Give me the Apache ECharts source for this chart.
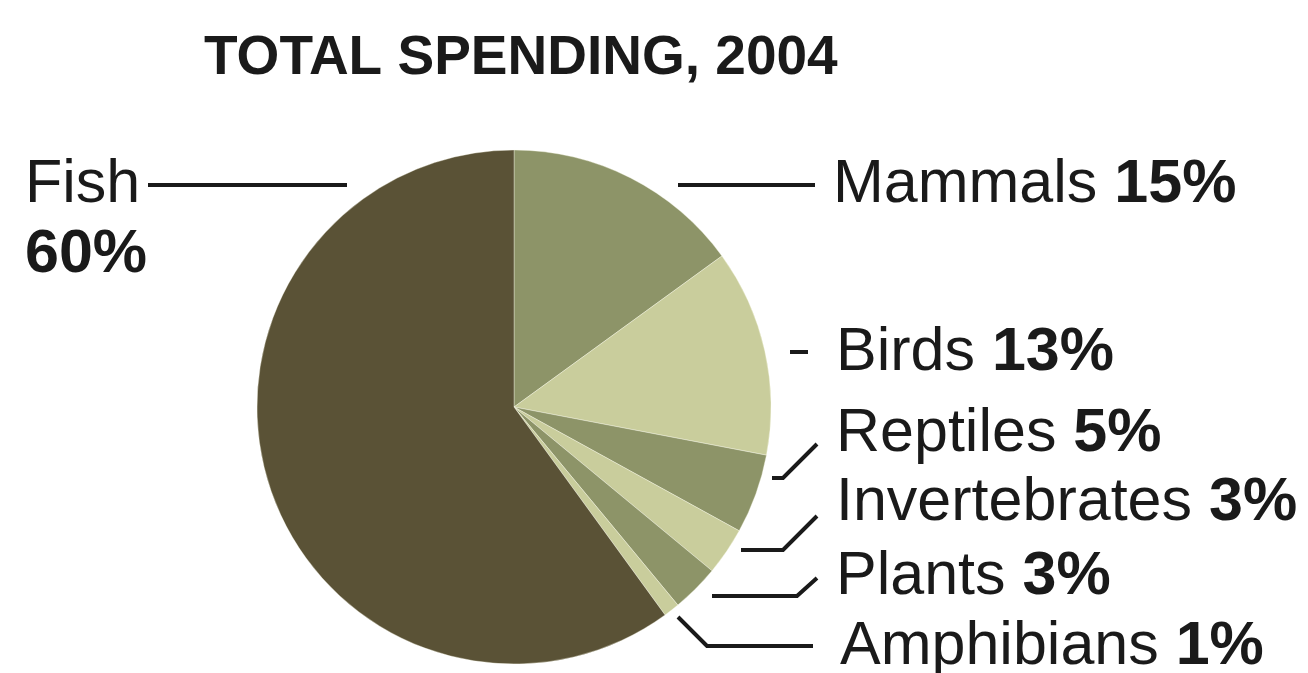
<!DOCTYPE html>
<html><head><meta charset="utf-8">
<script src="https://cdn.jsdelivr.net/npm/echarts@6/dist/echarts.min.js"></script>
<style>html,body{margin:0;padding:0;background:#fff}#c{width:1308px;height:673px}</style>
</head><body><div id="c"></div>
<script>
const titleText = 'TOTAL SPENDING, 2004';
const categories = ['Mammals', 'Birds', 'Reptiles', 'Invertebrates', 'Plants', 'Amphibians', 'Fish'];
const values = [15, 13, 5, 3, 3, 1, 60];
const sliceColors = ['#8d9468', '#c9cd9c', '#8d9468', '#c9cd9c', '#8d9468', '#c9cd9c', '#5a5236'];

// label anchor points and leader-line routes (layout only)
const labelPlacement = {
  Mammals:       { x: 833, y: 185, line: [[678, 185], [815, 185]] },
  Birds:         { x: 836, y: 353, line: [[790, 352], [808, 352]] },
  Reptiles:      { x: 836, y: 434, line: [[772, 478], [783, 478], [817, 444]] },
  Invertebrates: { x: 836, y: 503, line: [[741, 550], [783, 550], [817, 516]] },
  Plants:        { x: 836, y: 577, line: [[712, 596], [797, 596], [817, 578]] },
  Amphibians:    { x: 840, y: 647, line: [[678, 617], [707, 646], [813, 646]] },
  Fish:          { x: 25,  y: 150, line: [[148, 185], [347, 185]], top: true }
};

const FONT = '"Liberation Sans", Arial, Helvetica, sans-serif';
const chart = echarts.init(document.getElementById('c'), null, { renderer: 'canvas' });

chart.setOption({
  backgroundColor: '#ffffff',
  animation: false,
  title: {
    text: titleText,
    left: 199,
    top: 26,
    textStyle: { fontFamily: FONT, fontWeight: 'bold', fontSize: 55, color: '#1a1a1a' }
  },
  series: [{
    type: 'pie',
    center: [514, 407],
    radius: 257,
    startAngle: 90,
    clockwise: true,
    avoidLabelOverlap: false,
    emphasis: { disabled: true },
    itemStyle: { borderColor: 'rgba(255,255,240,0.35)', borderWidth: 1 },
    data: categories.map((name, i) => ({
      name: name,
      value: values[i],
      itemStyle: { color: sliceColors[i] }
    })),
    label: {
      show: true,
      position: 'outside',
      fontFamily: FONT,
      color: '#1a1a1a',
      formatter: function (p) {
        if (p.name === 'Fish') return '{n|' + p.name + '}\n{v|' + p.value + '%}';
        return '{n|' + p.name + '\u00a0}{v|' + p.value + '%}';
      },
      rich: {
        n: { fontFamily: FONT, fontSize: 61, lineHeight: 70, color: '#1a1a1a' },
        v: { fontFamily: FONT, fontSize: 61, lineHeight: 70, fontWeight: 'bold', color: '#1a1a1a' }
      }
    },
    labelLine: {
      show: true,
      smooth: false,
      lineStyle: { color: '#1a1a1a', width: 4 }
    },
    labelLayout: function (params) {
      const p = labelPlacement[categories[params.dataIndex]];
      return {
        x: p.x,
        y: p.y,
        align: 'left',
        verticalAlign: p.top ? 'top' : 'middle',
        labelLinePoints: p.line
      };
    }
  }]
});
</script>
</body></html>
